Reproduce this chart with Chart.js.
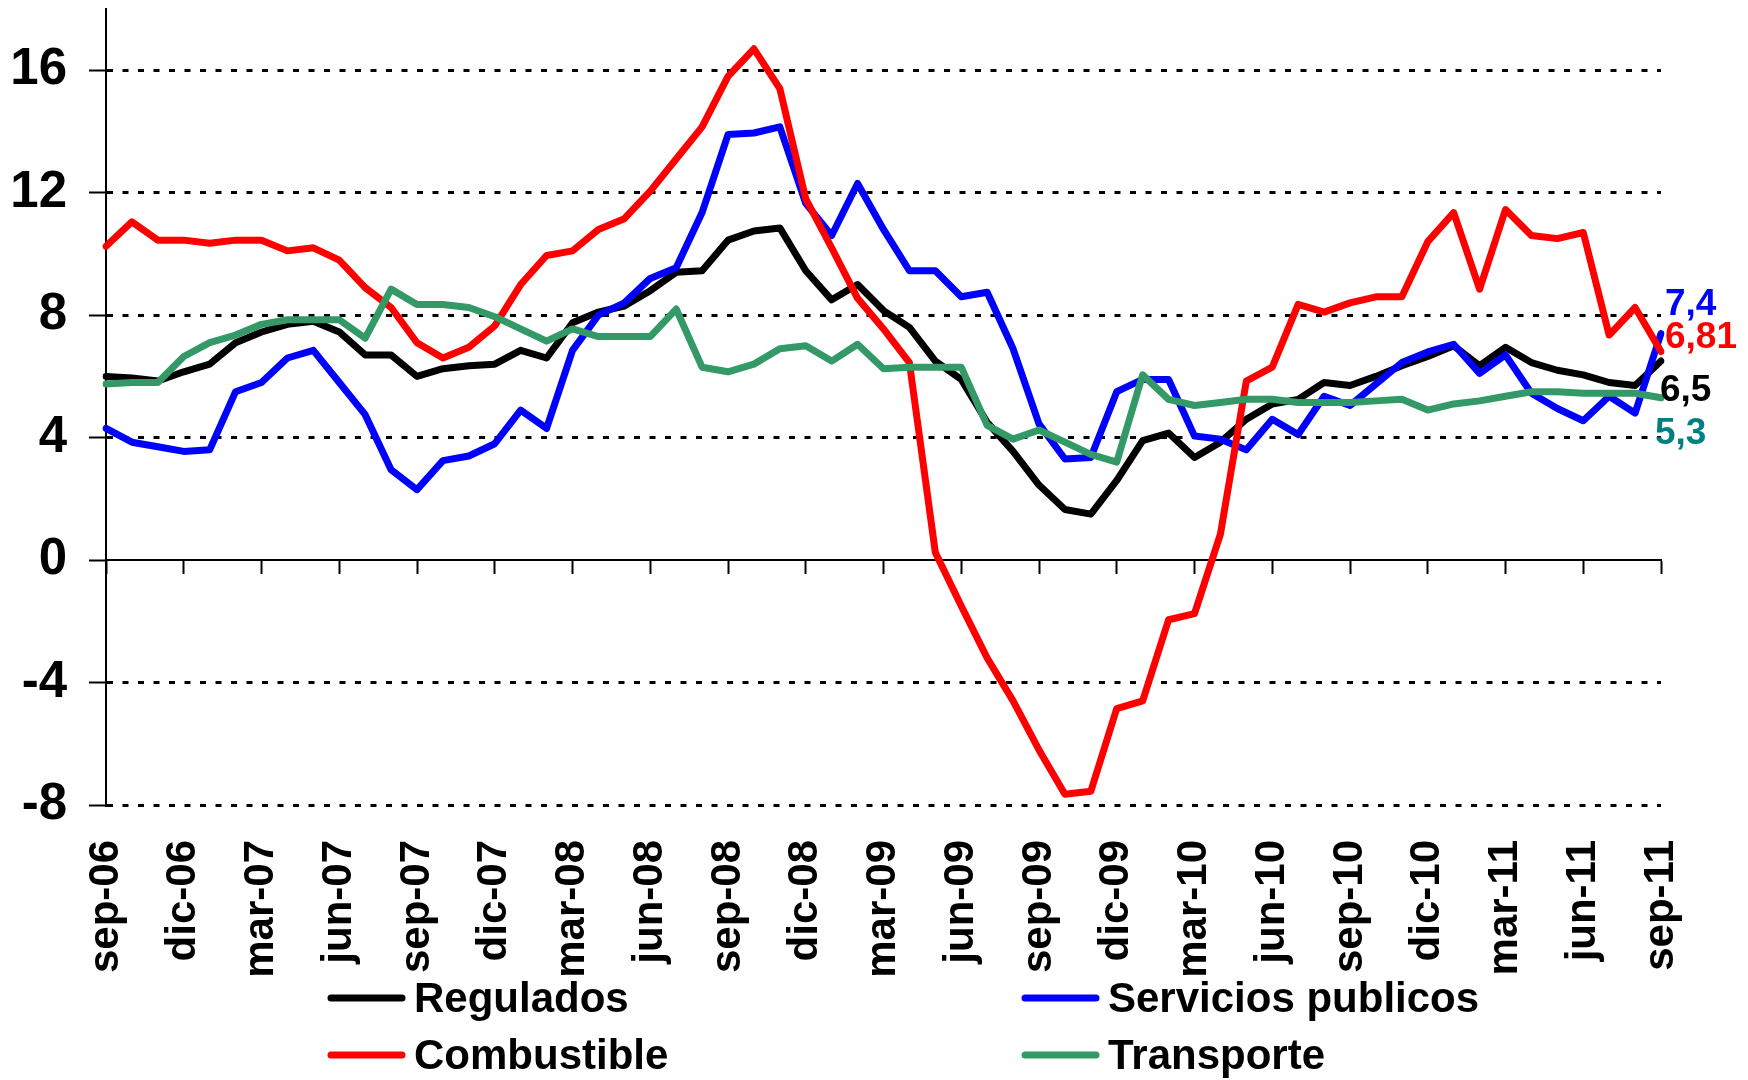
<!DOCTYPE html>
<html>
<head>
<meta charset="utf-8">
<script src="https://cdn.jsdelivr.net/npm/chart.js@4.4.1/dist/chart.umd.min.js"></script>
<style>
html, body { margin: 0; padding: 0; background: #fff; }
canvas { display: block; }
</style>
</head>
<body>
<canvas id="myChart" width="1748" height="1080"></canvas>
<script>
// meses sep-06 .. sep-11
var meses = ["sep", "oct", "nov", "dic", "ene", "feb", "mar", "abr", "may", "jun", "jul", "ago"];
var etiquetas = [];
for (var i = 0; i < 61; i++) {
  var anio = 6 + Math.floor((i + 8) / 12);
  etiquetas.push(meses[i % 12] + "-" + (anio < 10 ? "0" : "") + anio);
}

var regulados = [6.0, 5.95, 5.85, 6.15, 6.4, 7.1, 7.45, 7.7, 7.8, 7.45, 6.7, 6.7,
  6.0, 6.25, 6.35, 6.4, 6.85, 6.6, 7.75, 8.1, 8.3, 8.8, 9.4, 9.45,
  10.45, 10.75, 10.85, 9.45, 8.5, 9.0, 8.15, 7.6, 6.5, 5.9, 4.5, 3.55,
  2.45, 1.65, 1.5, 2.6, 3.9, 4.15, 3.35, 3.85, 4.6, 5.1, 5.25, 5.8,
  5.7, 6.0, 6.35, 6.65, 7.0, 6.35, 6.95, 6.45, 6.2, 6.05, 5.8, 5.7, 6.5];

var serviciosPublicos = [4.3, 3.85, 3.7, 3.55, 3.6, 5.5, 5.8, 6.6, 6.85, 5.8, 4.75, 2.95,
  2.3, 3.25, 3.4, 3.8, 4.9, 4.3, 6.85, 8.0, 8.4, 9.2, 9.55, 11.35,
  13.9, 13.95, 14.15, 11.65, 10.6, 12.3, 10.8, 9.45, 9.45, 8.6, 8.75, 6.9,
  4.45, 3.3, 3.35, 5.5, 5.9, 5.9, 4.05, 3.95, 3.6, 4.6, 4.1, 5.35,
  5.05, 5.75, 6.45, 6.8, 7.05, 6.1, 6.7, 5.45, 4.95, 4.55, 5.35, 4.8, 7.4];

var combustible = [10.25, 11.05, 10.45, 10.45, 10.35, 10.45, 10.45, 10.1, 10.2, 9.8, 8.9, 8.25,
  7.1, 6.6, 6.95, 7.65, 9.0, 9.95, 10.1, 10.8, 11.15, 12.05, 13.1, 14.15,
  15.8, 16.7, 15.4, 11.8, 10.2, 8.55, 7.55, 6.45, 0.25, -1.5, -3.2, -4.6,
  -6.2, -7.65, -7.55, -4.85, -4.6, -1.95, -1.75, 0.85, 5.85, 6.3, 8.35, 8.1,
  8.4, 8.6, 8.6, 10.4, 11.35, 8.85, 11.45, 10.6, 10.5, 10.7, 7.35, 8.25, 6.81];

var transporte = [5.75, 5.8, 5.8, 6.65, 7.1, 7.35, 7.7, 7.85, 7.85, 7.85, 7.25, 8.85,
  8.35, 8.35, 8.25, 7.95, 7.55, 7.15, 7.55, 7.3, 7.3, 7.3, 8.2, 6.3,
  6.15, 6.4, 6.9, 7.0, 6.5, 7.05, 6.25, 6.3, 6.3, 6.3, 4.4, 3.95,
  4.25, 3.85, 3.45, 3.2, 6.05, 5.25, 5.05, 5.15, 5.25, 5.25, 5.15, 5.15,
  5.15, 5.2, 5.25, 4.9, 5.1, 5.2, 5.35, 5.5, 5.5, 5.45, 5.45, 5.45, 5.3];

var fuente = "'Liberation Sans', Arial, sans-serif";
Chart.defaults.font.family = fuente;
Chart.defaults.font.weight = 'bold';
Chart.defaults.color = '#000';

// ultimo valor de cada serie junto al final de la linea
var coloresEtiqueta = ["#000000", "#0000ff", "#ff0000", "#008080"];
var desplazamientos = [[-1, 30], [4, -29], [4, -14], [-6, 36]];
var etiquetasFinales = {
  id: 'etiquetasFinales',
  afterDatasetsDraw: function(chart) {
    var c = chart.ctx;
    c.save();
    c.font = "bold 37px " + fuente;
    c.textAlign = 'left';
    c.textBaseline = 'middle';
    chart.data.datasets.forEach(function(ds, k) {
      var meta = chart.getDatasetMeta(k);
      var pt = meta.data[meta.data.length - 1];
      var txt = String(ds.data[ds.data.length - 1]).replace('.', ',');
      c.fillStyle = coloresEtiqueta[k];
      c.fillText(txt, pt.x + desplazamientos[k][0], pt.y + desplazamientos[k][1]);
    });
    c.restore();
  }
};

// leyenda en dos columnas
var leyenda = {
  id: 'leyenda',
  afterDraw: function(chart) {
    var c = chart.ctx;
    var colX = [328, 1022];
    var filaY = [998, 1055];
    c.save();
    c.font = "bold 42px " + fuente;
    c.textAlign = 'left';
    c.textBaseline = 'middle';
    c.lineCap = 'round';
    chart.data.datasets.forEach(function(ds, k) {
      var x = colX[k % 2], y = filaY[Math.floor(k / 2)];
      c.strokeStyle = ds.borderColor;
      c.lineWidth = 7;
      c.beginPath();
      c.moveTo(x + 3, y);
      c.lineTo(x + 74, y);
      c.stroke();
      c.fillStyle = '#000';
      c.fillText(ds.label, x + 86, y + 2);
    });
    c.restore();
  }
};

var ctx = document.getElementById("myChart").getContext('2d');
var myChart = new Chart(ctx, {
  type: 'line',
  data: {
    labels: etiquetas,
    datasets: [
      { label: "Regulados", data: regulados, borderColor: "#000000", order: 4 },
      { label: "Servicios publicos", data: serviciosPublicos, borderColor: "#0000ff", order: 3 },
      { label: "Combustible", data: combustible, borderColor: "#ff0000", order: 2 },
      { label: "Transporte", data: transporte, borderColor: "#339966", order: 1 }
    ]
  },
  options: {
    responsive: false,
    animation: false,
    devicePixelRatio: 1,
    layout: { padding: { top: 9, right: 87, bottom: 105, left: 0 } },
    elements: {
      line: { borderWidth: 7, tension: 0, fill: false, borderJoinStyle: 'round', borderCapStyle: 'round' },
      point: { radius: 0, hoverRadius: 0 }
    },
    plugins: { legend: { display: false }, tooltip: { enabled: false } },
    scales: {
      x: {
        type: 'category',
        position: 'bottom',
        offset: false,
        grid: { display: false, drawTicks: false },
        border: { display: false },
        ticks: {
          autoSkip: false, minRotation: 90, maxRotation: 90, padding: 35,
          font: { size: 42, weight: 'bold' },
          callback: function(v, i) { return i % 3 === 0 ? this.getLabelForValue(v) : null; }
        },
        afterFit: function(s) { s.height = 170; s.paddingLeft = 0; s.paddingRight = 0; }
      },
      xCero: {
        type: 'category',
        position: { y: 0 },
        offset: false,
        grid: {
          display: true, drawOnChartArea: false, drawTicks: true, tickLength: 13, tickWidth: 2,
          tickColor: function(c) { return c.index % 3 === 0 ? '#000' : 'rgba(0,0,0,0)'; }
        },
        border: { display: true, color: '#000', width: 2 },
        ticks: { display: false, autoSkip: false }
      },
      y: {
        position: 'left',
        min: -8,
        max: 18,
        ticks: { stepSize: 4, includeBounds: false, padding: 22, font: { size: 51, weight: 'bold' } },
        grid: {
          color: function(c) { return c.tick && c.tick.value === 0 ? 'rgba(0,0,0,0)' : '#000'; },
          lineWidth: 3, drawTicks: true, tickLength: 17, tickWidth: 2, tickColor: '#000'
        },
        border: { display: true, color: '#000', width: 2, dash: [6, 9.5] },
        afterFit: function(s) { s.width = 106; s.paddingTop = 0; s.paddingBottom = 0; }
      }
    }
  },
  plugins: [etiquetasFinales, leyenda]
});
</script>
</body>
</html>
